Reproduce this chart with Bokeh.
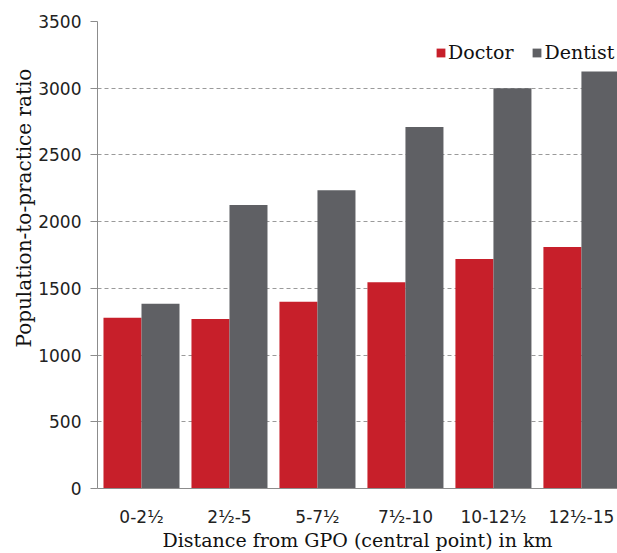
from bokeh.plotting import figure
from bokeh.models import (ColumnDataSource, Range1d, FixedTicker, Legend,
                          LegendItem, Title)
from bokeh.transform import dodge
from bokeh.embed import file_html
from bokeh.resources import INLINE

# Distance bands from the GPO and population-to-practice ratios
bands = ["0-2½", "2½-5", "5-7½", "7½-10", "10-12½", "12½-15"]
doctor = [1280, 1270, 1400, 1545, 1720, 1810]
dentist = [1385, 2125, 2235, 2710, 3000, 3125]
y_ticks = [0, 500, 1000, 1500, 2000, 2500, 3000, 3500]

RED = "#C71F2A"
GREY = "#5F6064"
SERIF = "DejaVu Serif"
SANS = "DejaVu Sans"

centers = [i + 0.5 for i in range(len(bands))]
src = ColumnDataSource(dict(x=centers, doctor=doctor, dentist=dentist))

p = figure(width=617, height=553, output_backend="svg", toolbar_location=None,
           x_range=Range1d(0, 5.91), y_range=Range1d(0, 3500),
           min_border_left=97, min_border_right=0, min_border_top=21,
           min_border_bottom=60)
p.outline_line_color = None

bw = 0.432
r1 = p.vbar(x=dodge("x", -bw / 2), top="doctor", width=bw, source=src,
            fill_color=RED, line_color=None)
r2 = p.vbar(x=dodge("x", bw / 2), top="dentist", width=bw, source=src,
            fill_color=GREY, line_color=None)

# Axes
p.xaxis.ticker = FixedTicker(ticks=centers)
p.xaxis.major_label_overrides = {c: b for c, b in zip(centers, bands)}
p.xaxis.major_tick_line_color = None
p.xaxis.minor_tick_line_color = None
p.xaxis.axis_line_color = "#8C8C8C"
p.xaxis.major_label_text_font = SANS
p.xaxis.major_label_text_font_size = "17px"
p.xaxis.major_label_text_color = "#222222"
p.xaxis.major_label_standoff = 12
p.xaxis.axis_label = "Distance from GPO (central point) in km"
p.xaxis.axis_label_text_font = SERIF
p.xaxis.axis_label_text_font_style = "normal"
p.xaxis.axis_label_text_font_size = "19px"
p.xaxis.axis_label_text_color = "#111111"
p.xaxis.axis_label_standoff = -1

p.yaxis.ticker = FixedTicker(ticks=y_ticks)
p.yaxis.minor_tick_line_color = None
p.yaxis.axis_line_color = "#8C8C8C"
p.yaxis.major_tick_line_color = "#8C8C8C"
p.yaxis.major_tick_out = 7
p.yaxis.major_tick_in = 0
p.yaxis.major_label_text_font = SANS
p.yaxis.major_label_text_font_size = "17px"
p.yaxis.major_label_text_color = "#222222"
p.yaxis.major_label_standoff = 9

# Vertical axis title, starting a little above the bottom of the plot area
p.add_layout(Title(text="Population-to-practice ratio", align="left",
                   offset=141, text_font=SERIF, text_font_size="20px",
                   text_font_style="normal", text_color="#111111",
                   standoff=0), "left")

p.xgrid.grid_line_color = None
p.ygrid.grid_line_color = "#9A9A9A"
p.ygrid.grid_line_dash = "4 3"
p.ygrid.grid_line_width = 1

legend = Legend(items=[LegendItem(label="Doctor", renderers=[r1]),
                       LegendItem(label="Dentist", renderers=[r2])],
                orientation="horizontal", location=(338, 425),
                glyph_width=11, glyph_height=11, label_standoff=2,
                spacing=18, padding=0, margin=0,
                label_text_font=SERIF, label_text_font_size="19px",
                label_text_color="#111111",
                background_fill_alpha=0, border_line_color=None)
p.add_layout(legend)

open("out.html", "w").write(file_html(p, INLINE))
